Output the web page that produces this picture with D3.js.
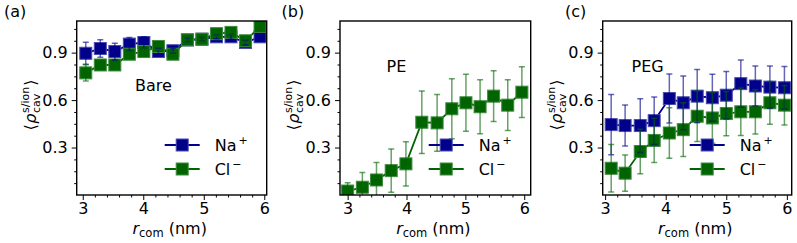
<!DOCTYPE html>
<html><head><meta charset="utf-8">
<script src="https://cdn.jsdelivr.net/npm/d3@7"></script>
<style>
body{margin:0;background:#fff}
svg{display:block}
text{font-family:"DejaVu Sans",sans-serif;fill:#000}
</style>
</head><body>
<svg id="c" width="797" height="243"></svg>
<script>
// ---------- data ----------
const panelLabels = ["(a)", "(b)", "(c)"];
const surfaceNames = ["Bare", "PE", "PEG"];
const seriesNames = ["Na", "Cl"];
const seriesCharges = ["+", "\u2212"];
const xTickValues = [3, 4, 5, 6];
const yTickValues = [0.3, 0.6, 0.9];
const xAxisTitle = ["r", "com", " (nm)"];

// Bare
const xBare  = [3.05, 3.29, 3.53, 3.77, 4.01, 4.25, 4.49, 4.73, 4.97, 5.21, 5.45, 5.69, 5.93];
const naBare = [0.896, 0.926, 0.907, 0.954, 0.964, 0.907, 0.912, 0.980, 0.985, 1.000, 1.000, 0.964, 1.000];
const naBareErr = [0.070, 0.055, 0.053, 0.042, 0.037, 0.020, 0.015, 0.012, 0.012, 0.012, 0.015, 0.015, 0.015];
const clBare = [0.772, 0.822, 0.822, 0.890, 0.907, 0.939, 0.890, 0.981, 0.985, 1.020, 1.028, 0.975, 1.066];
const clBareErr = [0.052, 0.020, 0.020, 0.020, 0.020, 0.020, 0.015, 0.015, 0.015, 0.015, 0.015, 0.015, 0.015];

// PE
const xPE  = [3.00, 3.25, 3.49, 3.74, 3.99, 4.26, 4.52, 4.77, 5.01, 5.25, 5.48, 5.72, 5.96];
const naPE = [];
const naPEErr = [];
const clPE = [0.025, 0.049, 0.095, 0.154, 0.197, 0.460, 0.456, 0.545, 0.583, 0.558, 0.625, 0.568, 0.650];
const clPEErr = [0.053, 0.093, 0.110, 0.137, 0.140, 0.198, 0.180, 0.190, 0.180, 0.170, 0.160, 0.160, 0.160];

// PEG
const xPEG  = [3.10, 3.33, 3.58, 3.81, 4.06, 4.29, 4.52, 4.77, 5.00, 5.24, 5.48, 5.72, 5.96];
const naPEG = [0.445, 0.439, 0.439, 0.470, 0.610, 0.583, 0.625, 0.615, 0.631, 0.704, 0.689, 0.682, 0.678];
const naPEGErr = [0.190, 0.130, 0.170, 0.150, 0.155, 0.170, 0.168, 0.148, 0.150, 0.150, 0.127, 0.134, 0.134];
const clPEG = [0.169, 0.138, 0.275, 0.345, 0.392, 0.413, 0.498, 0.487, 0.515, 0.526, 0.526, 0.583, 0.568];
const clPEGErr = [0.150, 0.115, 0.140, 0.140, 0.160, 0.170, 0.160, 0.160, 0.140, 0.150, 0.140, 0.135, 0.125];

// ---------- layout ----------
const colors = ["#00008b", "#006400"];
const edgeColors = ["#4b4bb0", "#3f8a3f"];
const plotTop = 21, plotBottom = 195;
const panels = [
  {x: xBare, s: [[naBare, naBareErr], [clBare, clBareErr]], xdom: [2.90, 6.04], left: 76.7, right: 266.7, labelX: 4, nameX: 135, nameY: 90.5},
  {x: xPE,   s: [[naPE, naPEErr], [clPE, clPEErr]],         xdom: [2.87, 6.11], left: 340, right: 530.7, labelX: 281.5, nameX: 386.5, nameY: 71.5},
  {x: xPEG,  s: [[naPEG, naPEGErr], [clPEG, clPEGErr]],     xdom: [2.96, 6.08], left: 602.7, right: 791.7, labelX: 565, nameX: 631.5, nameY: 71.5}
];

const svg = d3.select("#c");
const FS = 16;

panels.forEach((p, pi) => {
  const x = d3.scaleLinear().domain(p.xdom).range([p.left, p.right]);
  const y = d3.scaleLinear().domain([0, 1.1]).range([plotBottom, plotTop]);
  const g = svg.append("g");

  const clipId = "clip" + pi;
  svg.append("clipPath").attr("id", clipId).append("rect")
    .attr("x", p.left).attr("y", plotTop).attr("width", p.right - p.left).attr("height", plotBottom - plotTop);

  // minor ticks
  const yMinor = d3.range(0, 1.1001, 0.075).filter(v => v > 0.01 && yTickValues.every(t => Math.abs(t - v) > 1e-6));
  const xMinor = d3.range(3, 6.0001, 0.2).filter(v => xTickValues.every(t => Math.abs(t - v) > 1e-6));
  const ayMinor = g.append("g").attr("transform", `translate(${p.left},0)`)
    .call(d3.axisLeft(y).tickValues(yMinor).tickSize(2.5).tickFormat(""));
  const axMinor = g.append("g").attr("transform", `translate(0,${plotBottom})`)
    .call(d3.axisBottom(x).tickValues(xMinor).tickSize(2.5).tickFormat(""));
  // major ticks
  const ay = g.append("g").attr("transform", `translate(${p.left},0)`)
    .call(d3.axisLeft(y).tickValues(yTickValues).tickSize(5).tickPadding(4).tickFormat(d3.format(".1f")));
  const ax = g.append("g").attr("transform", `translate(0,${plotBottom})`)
    .call(d3.axisBottom(x).tickValues(xTickValues).tickSize(5).tickPadding(3).tickFormat(d3.format("d")));
  [ayMinor, axMinor, ay, ax].forEach(a => {
    a.select(".domain").remove();
    a.selectAll("line").attr("stroke", "#000").attr("stroke-width", 1);
    a.selectAll("text").style("font-family", '"DejaVu Sans",sans-serif').style("font-size", FS + "px").attr("fill", "#000");
  });

  const plot = g.append("g").attr("clip-path", `url(#${clipId})`);

  // lines + markers
  p.s.forEach((ser, si) => {
    const vals = ser[0];
    const pts = vals.map((v, i) => [p.x[i], v]);
    plot.append("path").datum(pts)
      .attr("fill", "none").attr("stroke", colors[si]).attr("stroke-width", 1.8)
      .attr("d", d3.line().x(d => x(d[0])).y(d => y(d[1])));
    plot.selectAll(null).data(pts).enter().append("rect")
      .attr("x", d => x(d[0]) - 6).attr("y", d => y(d[1]) - 6)
      .attr("width", 12).attr("height", 12)
      .attr("fill", colors[si]).attr("stroke", edgeColors[si]).attr("stroke-width", 1);
  });
  // error bars
  p.s.forEach((ser, si) => {
    const vals = ser[0], errs = ser[1];
    const eb = vals.map((v, i) => ({x: p.x[i], lo: v - errs[i], hi: v + errs[i]}));
    const eg = plot.append("g").attr("stroke", colors[si]).attr("stroke-opacity", 0.6).attr("stroke-width", 1.5);
    eg.selectAll(null).data(eb).enter().append("line")
      .attr("x1", d => x(d.x)).attr("x2", d => x(d.x)).attr("y1", d => y(d.lo)).attr("y2", d => y(d.hi));
    eg.selectAll(null).data(eb).enter().append("line")
      .attr("x1", d => x(d.x) - 3).attr("x2", d => x(d.x) + 3).attr("y1", d => y(d.hi)).attr("y2", d => y(d.hi));
    eg.selectAll(null).data(eb).enter().append("line")
      .attr("x1", d => x(d.x) - 3).attr("x2", d => x(d.x) + 3).attr("y1", d => y(d.lo)).attr("y2", d => y(d.lo));
  });

  // frame
  g.append("rect").attr("x", p.left).attr("y", plotTop).attr("width", p.right - p.left).attr("height", plotBottom - plotTop)
    .attr("fill", "none").attr("stroke", "#000").attr("stroke-width", 1.4);

  // legend
  const rows = [145, 169];
  seriesNames.forEach((nm, si) => {
    const ly = rows[si];
    g.append("line").attr("x1", p.right - 102).attr("x2", p.right - 67).attr("y1", ly).attr("y2", ly)
      .attr("stroke", colors[si]).attr("stroke-width", 1.8);
    g.append("rect").attr("x", p.right - 90.5).attr("y", ly - 6).attr("width", 12).attr("height", 12)
      .attr("fill", colors[si]).attr("stroke", edgeColors[si]).attr("stroke-width", 1);
    const t = g.append("text").attr("x", p.right - 52).attr("y", ly + 5.8).style("font-size", "16px");
    t.append("tspan").text(nm);
    t.append("tspan").attr("dx", 2).attr("dy", -7).style("font-size", "11px").text(seriesCharges[si]);
  });

  // surface name
  g.append("text").attr("x", p.nameX).attr("y", p.nameY).style("font-size", "16px").text(surfaceNames[pi]);
  // panel label
  g.append("text").attr("x", p.labelX).attr("y", 17).style("font-size", "16px").text(panelLabels[pi]);

  // x axis title
  const xt = g.append("text").attr("x", (p.left + p.right) / 2 - 2).attr("y", 234)
    .attr("text-anchor", "middle").style("font-size", "16px");
  xt.append("tspan").style("font-style", "italic").text(xAxisTitle[0]);
  xt.append("tspan").attr("dy", 3).style("font-size", "11.5px").text(xAxisTitle[1]);
  xt.append("tspan").attr("dy", -3).text(xAxisTitle[2]);

  // y axis title (rotated)
  const yl = g.append("g").attr("transform", `translate(${p.left - 41},${(plotTop + plotBottom) / 2 - 3}) rotate(-90)`);
  const inner = yl.append("g");
  const lb = inner.append("text").attr("x", 0).attr("y", 0).style("font-size", "16px").text("\u27E8");
  let cx = lb.node().getComputedTextLength() + 0.5;
  const rho = inner.append("text").attr("x", cx).attr("y", 0).style("font-size", "16px").style("font-style", "italic").text("\u03C1");
  cx += rho.node().getComputedTextLength() + 0.5;
  const sup = inner.append("text").attr("x", cx).attr("y", -7).style("font-size", "11px").text("s/ion");
  const sub = inner.append("text").attr("x", cx).attr("y", 4).style("font-size", "11px").text("cav");
  cx += Math.max(sup.node().getComputedTextLength(), sub.node().getComputedTextLength()) + 1;
  const rb = inner.append("text").attr("x", cx).attr("y", 0).style("font-size", "16px").text("\u27E9");
  cx += rb.node().getComputedTextLength();
  inner.attr("transform", `translate(${-cx / 2},0)`);
});
</script>
</body></html>
